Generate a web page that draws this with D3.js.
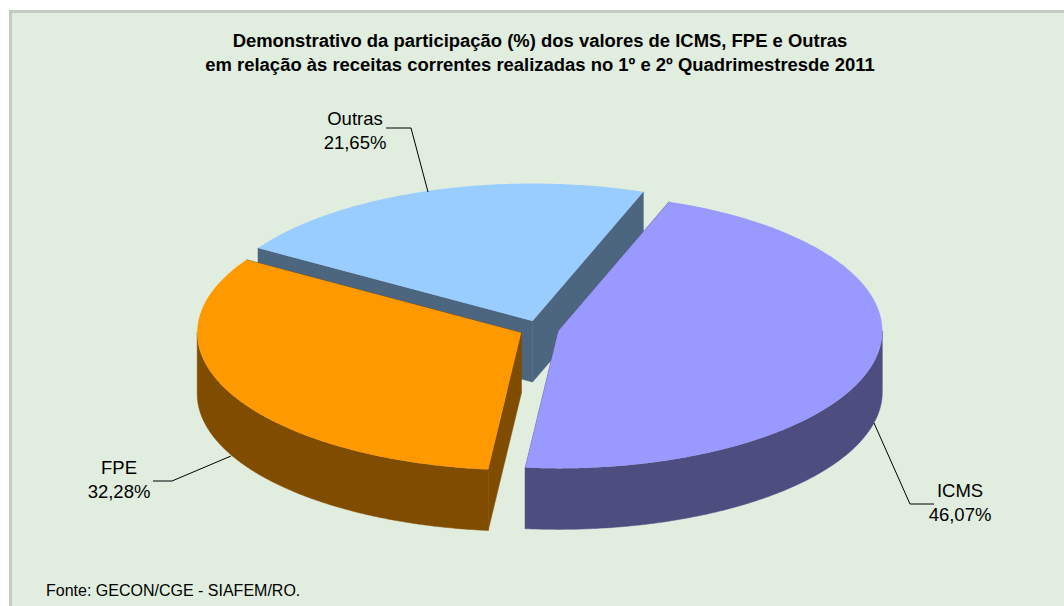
<!DOCTYPE html>
<html lang="pt">

<head>
  <meta charset="utf-8">
  <title>Demonstrativo ICMS, FPE e Outras</title>
  <script src="https://cdn.jsdelivr.net/npm/d3@7"></script>
  <style>
    html, body { margin: 0; padding: 0; background: #fff; }
    svg { display: block; }
    text { font-family: "Liberation Sans", Arial, sans-serif; fill: #000; }
  </style>
</head>

<body>
  <div id="chart"></div>

  <script type="text/javascript">
    // dados
    var categories = ["ICMS", "FPE", "Outras"];
    var values = [46.07, 32.28, 21.65];
    var titleLines = [
      "Demonstrativo da participação (%) dos valores de ICMS, FPE e Outras",
      "em relação às receitas correntes realizadas no 1º e 2º Quadrimestresde 2011"
    ];
    var sourceNote = "Fonte: GECON/CGE - SIAFEM/RO.";

    // cores
    var topColors = ["#9999ff", "#ff9900", "#99ccff"];
    var wallColors = ["#4d4d80", "#804d00", "#4d6680"];

    var width = 1064, height = 606;

    // geometria da pizza
    var cx = 539, cy = 329, rx = 324, ry = 137.5, depth = 61;
    var explode = 19.8;
    var firstAngle = 20 * Math.PI / 180;

    // rótulos: ancora do texto e linha de chamada, por categoria
    var labelPos = [
      { x: 960, y: 491, line: [[874, 423], [910, 504], [934, 504]] },
      { x: 119, y: 468, line: [[231, 456], [172, 481], [153, 481]] },
      { x: 355, y: 119, line: [[386, 128], [411, 128], [428, 192]] }
    ];

    var svg = d3.select("#chart").append("svg")
      .attr("width", width)
      .attr("height", height);

    // fundo e moldura
    svg.append("rect")
      .attr("x", 10.5).attr("y", 11.5)
      .attr("width", width + 20).attr("height", height + 20)
      .attr("fill", "#e0eddf")
      .attr("stroke", "#c2ccc1")
      .attr("stroke-width", 3);

    svg.selectAll(".title")
      .data(titleLines)
      .enter().append("text")
      .attr("class", "title")
      .attr("x", 540)
      .attr("y", function (d, i) { return 47 + i * 24; })
      .attr("text-anchor", "middle")
      .attr("font-size", 18.45)
      .attr("font-weight", "bold")
      .text(function (d) { return d; });

    svg.append("text")
      .attr("x", 46).attr("y", 596)
      .attr("font-size", 16)
      .text(sourceNote);

    var pie = d3.pie().sort(null)
      .startAngle(firstAngle)
      .endAngle(firstAngle + 2 * Math.PI);

    var arcs = pie(values).map(function (a, i) {
      var mid = (a.startAngle + a.endAngle) / 2;
      a.i = i;
      a.x0 = cx + explode * Math.sin(mid);
      a.y0 = cy - explode * Math.cos(mid) * ry / rx;
      return a;
    });

    function rim(a, angle) {
      return [a.x0 + rx * Math.sin(angle), a.y0 - ry * Math.cos(angle)];
    }

    function arcPoints(a, from, to) {
      var n = Math.max(2, Math.ceil(Math.abs(to - from) / 0.01));
      return d3.range(n + 1).map(function (k) {
        return rim(a, from + (to - from) * k / n);
      });
    }

    function down(p) { return [p[0], p[1] + depth]; }

    var poly = d3.line().curve(d3.curveLinear);

    // desenha de tras para a frente
    var drawOrder = [2, 1, 0];
    drawOrder.forEach(function (i) {
      var a = arcs[i];
      var g = svg.append("g").attr("class", "slice");
      var apex = [a.x0, a.y0];

      // faces de corte
      [a.startAngle, a.endAngle].forEach(function (ang) {
        var p = rim(a, ang);
        g.append("path")
          .attr("d", poly([apex, p, down(p), down(apex)]) + "Z")
          .attr("fill", wallColors[i])
          .attr("stroke", wallColors[i])
          .attr("stroke-width", 0.5);
      });

      // parede externa: so a metade da frente aparece
      var turn = 2 * Math.PI;
      [0, turn].forEach(function (shift) {
        var from = Math.max(a.startAngle, Math.PI / 2 + shift);
        var to = Math.min(a.endAngle, 3 * Math.PI / 2 + shift);
        if (to > from) {
          var pts = arcPoints(a, from, to);
          g.append("path")
            .attr("d", poly(pts.concat(pts.map(down).reverse())) + "Z")
            .attr("fill", wallColors[i])
            .attr("stroke", wallColors[i])
            .attr("stroke-width", 0.5);
        }
      });

      // tampa
      g.append("path")
        .attr("d", poly([apex].concat(arcPoints(a, a.startAngle, a.endAngle))) + "Z")
        .attr("fill", topColors[i]);
    });

    // linhas de chamada e rotulos
    var labelG = svg.selectAll(".label")
      .data(categories)
      .enter().append("g")
      .attr("class", "label");

    labelG.append("path")
      .attr("d", function (d, i) { return poly(labelPos[i].line); })
      .attr("fill", "none")
      .attr("stroke", "#000")
      .attr("stroke-width", 1);

    labelG.append("text")
      .attr("x", function (d, i) { return labelPos[i].x; })
      .attr("y", function (d, i) { return labelPos[i].y + 6; })
      .attr("text-anchor", "middle")
      .attr("font-size", 18.5)
      .text(function (d) { return d; });

    labelG.append("text")
      .attr("x", function (d, i) { return labelPos[i].x; })
      .attr("y", function (d, i) { return labelPos[i].y + 30; })
      .attr("text-anchor", "middle")
      .attr("font-size", 18.5)
      .text(function (d, i) { return d3.format(".2f")(values[i]).replace(".", ",") + "%"; });
  </script>
</body>

</html>
